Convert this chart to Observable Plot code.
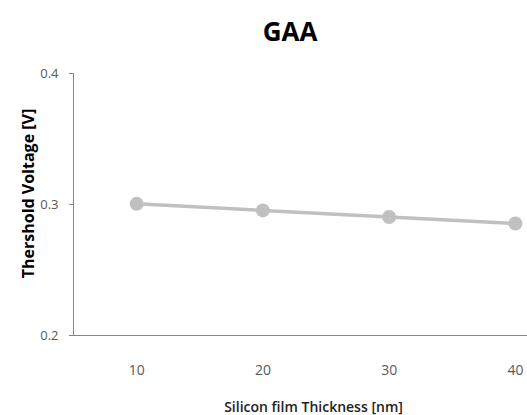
<!DOCTYPE html>
<html>
<head>
<meta charset="utf-8">
<script src="https://cdn.jsdelivr.net/npm/d3@7"></script>
<script src="https://cdn.jsdelivr.net/npm/@observablehq/plot@0.6"></script>
<style>
  html, body { margin: 0; padding: 0; background: #fff; }
  #wrap { position: relative; width: 527px; height: 415px; overflow: hidden; font-family: "Open Sans", sans-serif; }
  #title { height: 55px; position: relative; }
  #title span { position: absolute; left: 290px; top: 18px; transform: translateX(-50%); font-size: 26px; line-height: 26px; font-weight: bold; color: #000; white-space: nowrap; }
  #chart svg { display: block; }
</style>
</head>
<body>
<div id="wrap">
  <div id="title"><span>GAA</span></div>
  <div id="chart"></div>
</div>
<script>
const titleText = "GAA";
const xLabel = "Silicon film Thickness [nm]";
const yLabel = "Thershold Voltage [V]";
const thickness = [10, 20, 30, 40];
const vth = [0.3005, 0.2955, 0.2905, 0.2855];
const yTicks = [0.2, 0.3, 0.4];

document.querySelector("#title span").textContent = titleText;
const data = thickness.map((t, i) => ({t, v: vth[i]}));

const axisColor = "#868686";
const labelColor = "#595959";
const seriesColor = "#c0c0c0";

const chart = Plot.plot({
  width: 527,
  height: 360,
  marginTop: 18,
  marginBottom: 80,
  marginLeft: 73,
  marginRight: 0,
  style: {fontFamily: "Open Sans, sans-serif", fontSize: "13px", background: "#fff"},
  x: {type: "linear", domain: [5, 45], range: [73, 578]},
  y: {domain: [0.2, 0.4]},
  marks: [
    Plot.ruleX([5], {y1: 0.2, y2: 0.4, stroke: axisColor, strokeWidth: 1}),
    Plot.ruleY([0.2], {stroke: axisColor, strokeWidth: 1}),
    Plot.axisY({ticks: yTicks, tickFormat: d => d.toFixed(1), tickSize: 4, tickPadding: 11, stroke: axisColor, color: labelColor, label: null, fontSize: 13}),
    Plot.axisX({ticks: thickness, tickFormat: d => String(d), tickSize: 0, tickPadding: 30, color: labelColor, label: null, fontSize: 14}),
    Plot.line(data, {x: "t", y: "v", stroke: seriesColor, strokeWidth: 3.5}),
    Plot.dot(data, {x: "t", y: "v", r: 7, fill: seriesColor, stroke: "none"}),
    Plot.text([yLabel], {frameAnchor: "top-left", dx: -51, dy: 120, rotate: -90, textAnchor: "middle", fontWeight: "bold", fontSize: 16, fill: "#000", letterSpacing: "0.4px"}),
    Plot.text([xLabel], {frameAnchor: "top-left", dx: 240, dy: 329, textAnchor: "middle", fontWeight: "600", fontSize: 14, fill: "#222"})
  ]
});
document.getElementById("chart").appendChild(chart);
</script>
</body>
</html>
